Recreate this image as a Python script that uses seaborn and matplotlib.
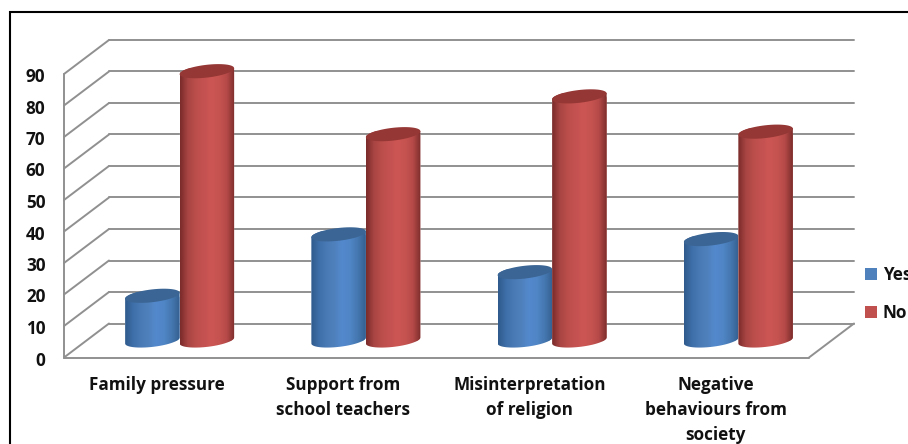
import numpy as np
import pandas as pd
import seaborn as sns
import matplotlib
matplotlib.use("Agg")
import matplotlib.pyplot as plt
from matplotlib.colors import LinearSegmentedColormap
from matplotlib.patches import Patch, PathPatch, Rectangle
from matplotlib.path import Path
from matplotlib.transforms import ScaledTranslation

categories = ["Family pressure", "Support from\nschool teachers",
              "Misinterpretation\nof religion", "Negative\nbehaviours from\nsociety"]
yes_values = [14.2, 33.7, 21.7, 32.2]
no_values = [85.5, 65.5, 77.5, 66.3]
series_names = ["Yes", "No"]
y_ticks = list(range(0, 100, 10))
palette = {"Yes": "#4f81bd", "No": "#c0504d"}
caps = {"Yes": "#3b6594", "No": "#953735"}
ramps = {"Yes": ["#2f5a8c", "#3f6fa8", "#4a7ab5", "#4f81bd", "#5389cd", "#5086c6", "#4577b0", "#345f90"],
         "No": ["#7a2b2a", "#a84543", "#bb4e4b", "#c45250", "#cc5653", "#c65350", "#b54a48", "#7c2d2c"]}

W, H, DPI = 908, 444, 100
FONT = "Open Sans"
FS = 12.3
sns.set_theme(style="white")
plt.rcParams["font.family"] = [FONT, "DejaVu Sans"]

fig = plt.figure(figsize=(W / DPI, H / DPI), dpi=DPI, facecolor="white")
# axes = mid-depth plane of the 3D box
left, right, base, top = 86.5, 831.5, 340.5, 57.0
ax = fig.add_axes([left / W, 1 - base / H, (right - left) / W, (base - top) / H])
ax.patch.set_visible(False)

df = pd.DataFrame({"category": categories * 2,
                   "series": ["Yes"] * 4 + ["No"] * 4,
                   "value": yes_values + no_values})
sns.barplot(data=df, x="category", y="value", hue="series", hue_order=series_names,
            palette=palette, width=0.585, gap=0, dodge=True, legend=False, ax=ax,
            saturation=1, err_kws={"linewidth": 0})
ax.set_xlim(-0.5, 3.5)
ax.set_ylim(0, 90)
ax.set_yticks(y_ticks)
ax.set_xlabel("")
ax.set_ylabel("")
sns.despine(ax=ax, left=True, bottom=True, top=True, right=True)
ax.tick_params(axis="both", length=0, labelsize=FS, labelcolor="#111111")
ax.tick_params(axis="y", pad=(19 + 22) * 72 / DPI)
ax.tick_params(axis="x", pad=35 * 72 / DPI)


def shift(dx, dy):
    return ScaledTranslation(dx / DPI, dy / DPI, fig.dpi_scale_trans)


DX, DY = 22.5, 17.0
front = ax.transData + shift(-DX, -DY)
back = ax.transData + shift(DX, DY)

for lab in ax.get_yticklabels():
    lab.set_fontweight("bold")
    lab.set_transform(lab.get_transform() + shift(0, -DY - 1))
for lab in ax.get_xticklabels():
    lab.set_fontweight("bold")
    lab.set_linespacing(1.5)
    lab.set_transform(lab.get_transform() + shift(-DX, 0))

GRID = dict(color="#909090", lw=1.4, solid_capstyle="round", zorder=1, clip_on=False)
xmin, xmax = ax.get_xlim()


def joined(p0, t0, p1, t1):
    a, b = t0.transform(p0), t1.transform(p1)
    ax.plot([a[0], b[0]], [a[1], b[1]], transform=None, **GRID)


for v in y_ticks:
    joined((xmin, v), front, (xmin, v), back)
    joined((xmin, v), back, (xmax, v), back)
joined((xmin, 0), front, (xmin, 90), front)
joined((xmin, 0), front, (xmax, 0), front)
joined((xmax, 0), front, (xmax, 0), back)

# turn each seaborn bar into a shaded cylinder
sy = (base - top) / 90  # px per unit
t_low = np.linspace(np.pi, 2 * np.pi, 60)
t_up = np.linspace(0, np.pi, 60)
t_all = np.linspace(0, 2 * np.pi, 120)
MINOR, TILT = 6.4 / sy, 3.0 / sy
order = ["Yes"] * 4 + ["No"] * 4
z = 3.0
for rect, name in zip(list(ax.patches)[:8], order):
    x0, w, h = rect.get_x(), rect.get_width(), rect.get_height()
    cx, a = x0 + w / 2, w / 2
    ex = lambda t: cx + a * np.cos(t)
    ey = lambda t, c: c + MINOR * np.sin(t) + TILT * np.cos(t)
    body = np.column_stack([np.r_[ex(t_low), ex(t_up)], np.r_[ey(t_low, 0), ey(t_up, h)]])
    path = Path(np.vstack([body, body[:1]]), closed=True)
    clip = PathPatch(path, transform=ax.transData)
    rect.set_zorder(z)
    rect.set_clip_path(clip)
    rect.set_clip_box(fig.bbox)
    cmap = LinearSegmentedColormap.from_list(name, ramps[name])
    im = ax.imshow(np.linspace(0, 1, 128)[None, :], cmap=cmap, aspect="auto",
                   extent=(x0, x0 + w, -MINOR - TILT, h + 1), zorder=z + 0.1,
                   interpolation="bilinear")
    im.set_clip_path(clip)
    im.set_clip_box(fig.bbox)
    cap = np.column_stack([ex(t_all), ey(t_all, h)])
    ax.fill(cap[:, 0], cap[:, 1], color=caps[name], lw=0, zorder=z + 0.2, clip_on=False)
    z += 1
ax.set_xlim(xmin, xmax)
ax.set_ylim(0, 90)

handles = [Patch(facecolor=palette[n], edgecolor="none", label=n) for n in series_names]
fig.legend(handles=handles, loc="center left", bbox_to_anchor=(865 / W, 1 - 294 / H),
           frameon=False, handlelength=0.7, handleheight=0.7,
           handletextpad=0.33, labelspacing=1.2, borderpad=0, borderaxespad=0,
           prop={"family": FONT, "weight": "bold", "size": FS}, labelcolor="#111111")

# outer chart frame (runs off the right and bottom of the picture)
fig.add_artist(Rectangle((10 / W, -0.1), 1.2, 1 - 12 / H + 0.1, transform=fig.transFigure,
                         facecolor="none", edgecolor="black", lw=1.5))

fig.savefig("out.png", dpi=DPI, facecolor="white")
